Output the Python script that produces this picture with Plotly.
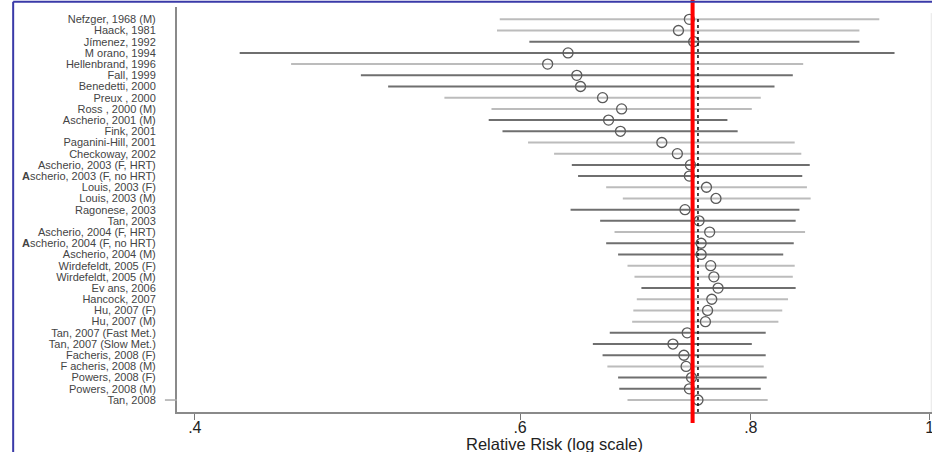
import plotly.graph_objects as go

studies = [
    "Nefzger, 1968 (M)", "Haack, 1981", "Jímenez, 1992", "M orano, 1994",
    "Hellenbrand, 1996", "Fall, 1999", "Benedetti, 2000", "Preux , 2000",
    "Ross , 2000 (M)", "Ascherio, 2001 (M)", "Fink, 2001", "Paganini-Hill, 2001",
    "Checkoway, 2002", "Ascherio, 2003 (F, HRT)", "<b>A</b>scherio, 2003 (F, no HRT)",
    "Louis, 2003 (F)", "Louis, 2003 (M)", "Ragonese, 2003", "Tan, 2003",
    "Ascherio, 2004 (F, HRT)", "<b>A</b>scherio, 2004 (F, no HRT)", "Ascherio, 2004 (M)",
    "Wirdefeldt, 2005 (F)", "Wirdefeldt, 2005 (M)", "Ev ans, 2006", "Hancock, 2007",
    "Hu, 2007 (F)", "Hu, 2007 (M)", "Tan, 2007 (Fast Met.)", "Tan, 2007 (Slow Met.)",
    "Facheris, 2008 (F)", "F acheris, 2008 (M)", "Powers, 2008 (F)", "Powers, 2008 (M)",
    "Tan, 2008",
]

rr = [0.741, 0.731, 0.745, 0.637, 0.621, 0.644, 0.647, 0.665, 0.681, 0.670,
      0.680, 0.716, 0.730, 0.742, 0.741, 0.757, 0.766, 0.737, 0.750, 0.760,
      0.752, 0.752, 0.761, 0.764, 0.768, 0.762, 0.758, 0.756, 0.739, 0.726,
      0.736, 0.738, 0.743, 0.741, 0.749]

ci_low = [0.585, 0.583, 0.607, 0.423, 0.451, 0.492, 0.509, 0.546, 0.579, 0.577,
          0.587, 0.606, 0.626, 0.640, 0.645, 0.668, 0.682, 0.639, 0.663, 0.675,
          0.668, 0.678, 0.686, 0.692, 0.698, 0.694, 0.691, 0.690, 0.671, 0.657,
          0.665, 0.669, 0.678, 0.679, 0.686]

ci_high = [0.939, 0.916, 0.916, 0.957, 0.854, 0.843, 0.824, 0.810, 0.801, 0.777,
           0.787, 0.845, 0.852, 0.861, 0.853, 0.858, 0.862, 0.850, 0.846, 0.856,
           0.844, 0.833, 0.845, 0.843, 0.846, 0.838, 0.832, 0.828, 0.815, 0.801,
           0.815, 0.813, 0.816, 0.810, 0.817]

# shade group of each CI line (L = light grey, D = dark grey)
shade = ["L", "L", "D", "D", "L", "D", "D", "L", "L", "D", "D", "L", "L", "D", "D",
         "L", "L", "D", "D", "L", "D", "D", "L", "L", "D", "L", "L", "L", "D", "D",
         "D", "L", "D", "D", "L"]

pooled_rr = 0.749
reference_rr = 0.744

x_ticks = [0.4, 0.6, 0.8, 1.0]
x_tick_labels = [".4", ".6", ".8", "1"]

n = len(studies)
ypos = [n - i for i in range(n)]

fig = go.Figure()

shade_colors = {"L": "#bcbcbc", "D": "#6f6f6f"}
for grp, col in shade_colors.items():
    xs, ys = [], []
    for lo, hi, y, s in zip(ci_low, ci_high, ypos, shade):
        if s == grp:
            xs += [lo, hi, None]
            ys += [y, y, None]
    fig.add_trace(go.Scatter(x=xs, y=ys, mode="lines",
                             line=dict(color=col, width=2),
                             hoverinfo="skip", showlegend=False))

fig.add_trace(go.Scatter(x=rr, y=ypos, mode="markers",
                         marker=dict(symbol="circle-open", size=10,
                                     color="#5a5a5a", line=dict(width=1.3)),
                         showlegend=False))

shapes = [
    # pooled estimate dashed line
    dict(type="line", xref="x", yref="y", x0=pooled_rr, x1=pooled_rr,
         y0=-0.07, y1=35.1, line=dict(color="#111111", width=1.5, dash="3px,3px")),
    # red reference line
    dict(type="line", xref="x", yref="paper", x0=reference_rr, x1=reference_rr,
         y0=-0.027, y1=1.02, line=dict(color="#ff0000", width=4)),
    # y tick for last row
    dict(type="line", xref="paper", yref="y", x0=-0.016, x1=0, y0=1, y1=1,
         line=dict(color="#aaaaaa", width=1.5)),
    # faint right frame
    dict(type="line", xref="paper", yref="paper", x0=0.999, x1=0.999, y0=0, y1=0.985,
         line=dict(color="#e6e6e6", width=1)),
    # blue slide frame
    dict(type="line", xref="paper", yref="paper", x0=-0.217, x1=-0.217, y0=-0.2, y1=1.013,
         line=dict(color="#3a3aa8", width=2)),
    dict(type="line", xref="paper", yref="paper", x0=-0.217, x1=1.01, y0=1.013, y1=1.013,
         line=dict(color="#3a3aa8", width=2)),
]

fig.update_layout(
    width=932, height=452,
    margin=dict(l=177, r=0, t=7, b=40),
    paper_bgcolor="white", plot_bgcolor="white",
    font=dict(family="Liberation Sans, Arial, sans-serif"),
    shapes=shapes,
    annotations=[dict(text="Relative Risk (log scale)", xref="paper", yref="paper",
                      x=0.5, y=-0.078, xanchor="center", yanchor="middle",
                      showarrow=False, font=dict(size=16.5, color="#222222"))],
)

fig.update_xaxes(type="log", range=[-0.4076, 0.0012],
                 tickvals=x_ticks, ticktext=x_tick_labels,
                 ticks="outside", ticklen=6, tickcolor="#777777", tickwidth=1,
                 ticklabelstandoff=-6, ticklabeloverflow="allow",
                 tickfont=dict(size=16, color="#222222"),
                 showline=True, linecolor="#8a8a8a", linewidth=2,
                 showgrid=False, zeroline=False, automargin=False)

fig.update_yaxes(range=[-0.07, 36.1], tickvals=ypos, ticktext=studies,
                 ticks="outside", ticklen=17, tickcolor="rgba(0,0,0,0)",
                 tickfont=dict(size=11, color="#444444"),
                 showline=True, linecolor="#8a8a8a", linewidth=2,
                 showgrid=False, zeroline=False, automargin=False)

fig.write_html("out.html", config={"displayModeBar": False},
               post_script="document.body.style.margin='0';document.body.style.overflow='hidden';")
